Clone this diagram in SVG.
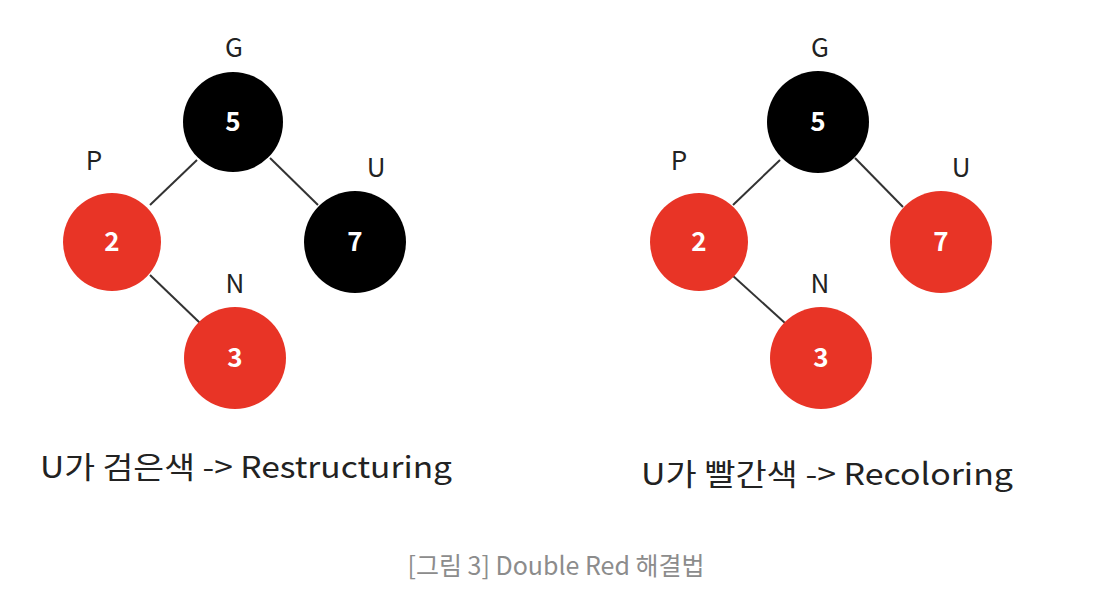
<svg xmlns="http://www.w3.org/2000/svg" width="1112" height="616" viewBox="0 0 1112 616">
<style>
.bg{fill:#ffffff}
.blk{fill:#000000}
.red{fill:#e83426}
.num{font-family:"Noto Sans CJK KR","Noto Sans",sans-serif;font-size:26px;font-weight:bold;fill:#ffffff;text-anchor:middle}
.lbl{font-family:"Noto Sans CJK KR","Noto Sans",sans-serif;font-size:26px;fill:#222222;text-anchor:middle}
.edge{stroke:#333333;stroke-width:2;fill:none}
.cap{font-family:"Noto Sans CJK KR","Noto Sans",sans-serif;font-size:30px;fill:#222222}
.fig{font-family:"Noto Sans CJK KR","Noto Sans",sans-serif;font-size:25px;fill:#8c8c8c;text-anchor:middle}
</style>
<rect class="bg" x="0" y="0" width="1112" height="616"/>
<g id="connectors">
<line class="edge" x1="197" y1="160" x2="150" y2="205"/>
<line class="edge" x1="270" y1="158" x2="318" y2="205"/>
<line class="edge" x1="150" y1="275" x2="200" y2="323"/>
<line class="edge" x1="780" y1="160" x2="733" y2="205"/>
<line class="edge" x1="855" y1="158" x2="903" y2="207"/>
<line class="edge" x1="732" y1="275" x2="785" y2="323"/>
</g>
<g id="left-G"><circle class="blk" cx="233" cy="122" r="50"/><text class="num" x="233" y="131">5</text><text class="lbl" x="234" y="57">G</text></g>
<g id="left-P"><circle class="red" cx="112" cy="242" r="49"/><text class="num" x="112" y="251">2</text><text class="lbl" x="94" y="170">P</text></g>
<g id="left-U"><circle class="blk" cx="355" cy="242" r="51"/><text class="num" x="355" y="251">7</text><text class="lbl" x="376" y="177">U</text></g>
<g id="left-N"><circle class="red" cx="235" cy="358" r="51"/><text class="num" x="235" y="367">3</text><text class="lbl" x="235" y="293">N</text></g>
<g id="right-G"><circle class="blk" cx="818" cy="122" r="51"/><text class="num" x="818" y="131">5</text><text class="lbl" x="820" y="57">G</text></g>
<g id="right-P"><circle class="red" cx="699" cy="242" r="49"/><text class="num" x="699" y="251">2</text><text class="lbl" x="679" y="170">P</text></g>
<g id="right-U"><circle class="red" cx="941" cy="242" r="51"/><text class="num" x="941" y="251">7</text><text class="lbl" x="961" y="177">U</text></g>
<g id="right-N"><circle class="red" cx="821" cy="358" r="51"/><text class="num" x="821" y="367">3</text><text class="lbl" x="820" y="293">N</text></g>
<text class="cap" x="40" y="478" textLength="412" lengthAdjust="spacingAndGlyphs">U가 검은색 -&gt; Restructuring</text>
<text class="cap" x="641" y="485" textLength="372" lengthAdjust="spacingAndGlyphs">U가 빨간색 -&gt; Recoloring</text>
<text class="fig" x="556" y="575">[그림 3] Double Red 해결법</text>
</svg>
